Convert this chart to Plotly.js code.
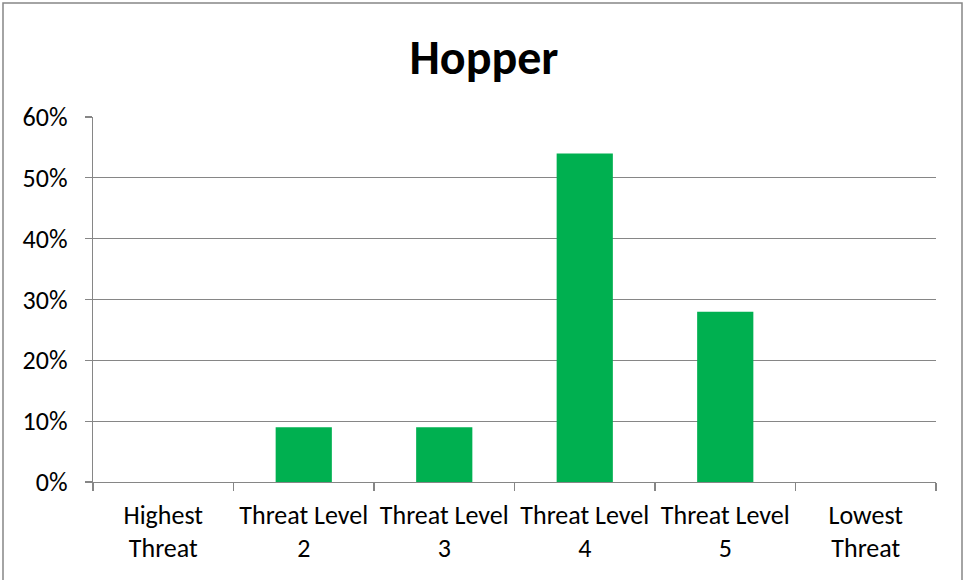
<!DOCTYPE html>
<html>
<head>
<meta charset="utf-8">
<script src="https://cdn.plot.ly/plotly-3.0.1.min.js"></script>
<style>
html,body{margin:0;padding:0;background:#fff;}
#chart{width:966px;height:580px;}
</style>
</head>
<body>
<div id="chart"></div>
<script>
const categories = ["Highest<br>Threat", "Threat Level<br>2", "Threat Level<br>3", "Threat Level<br>4", "Threat Level<br>5", "Lowest<br>Threat"];
const values = [0, 0.09, 0.09, 0.54, 0.28, 0];
const yTicks = [0, 0.1, 0.2, 0.3, 0.4, 0.5, 0.6];
const yTickLabels = ["0%", "10%", "20%", "30%", "40%", "50%", "60%"];

const font = "Carlito, Lato, 'Open Sans', sans-serif";
const gray = "#868686";

Plotly.newPlot("chart", [{
  type: "bar",
  x: categories,
  y: values,
  marker: {color: "#00B050"},
  hoverinfo: "x+y"
}], {
  width: 966, height: 580,
  margin: {l: 93, r: 30, t: 117, b: 98},
  paper_bgcolor: "#fff", plot_bgcolor: "#fff",
  bargap: 0.6,
  showlegend: false,
  title: {text: "<b>Hopper</b>", font: {family: font, size: 48, color: "#000"}, x: 484 / 966, xref: "container", xanchor: "center", y: 1 - 57 / 580, yref: "container", yanchor: "middle"},
  font: {family: font, size: 26, color: "#000"},
  xaxis: {
    type: "category",
    tickson: "boundaries",
    ticks: "outside", ticklen: 8, tickcolor: gray, tickwidth: 1.3,
    showline: true, linecolor: gray, linewidth: 1.3,
    showgrid: false, zeroline: false,
    tickfont: {family: font, size: 26, color: "#000"},
    ticklabelstandoff: 9,
    fixedrange: true
  },
  yaxis: {
    range: [0, 0.6],
    tickvals: yTicks, ticktext: yTickLabels,
    ticks: "outside", ticklen: 7, tickcolor: gray, tickwidth: 1.3,
    showline: true, linecolor: gray, linewidth: 1.3,
    showgrid: true, gridcolor: gray, gridwidth: 1.3,
    zeroline: false,
    tickfont: {family: font, size: 26, color: "#000"},
    ticklabelstandoff: 12,
    fixedrange: true
  },
  shapes: [{
    type: "rect", xref: "paper", yref: "paper",
    x0: (3 - 93) / 843, x1: (962 - 93) / 843,
    y0: (482 - 582) / 365, y1: (482 - 3) / 365,
    line: {color: gray, width: 1.5}, fillcolor: "rgba(0,0,0,0)", layer: "below"
  }]
}, {displayModeBar: false, staticPlot: true});
</script>
</body>
</html>
